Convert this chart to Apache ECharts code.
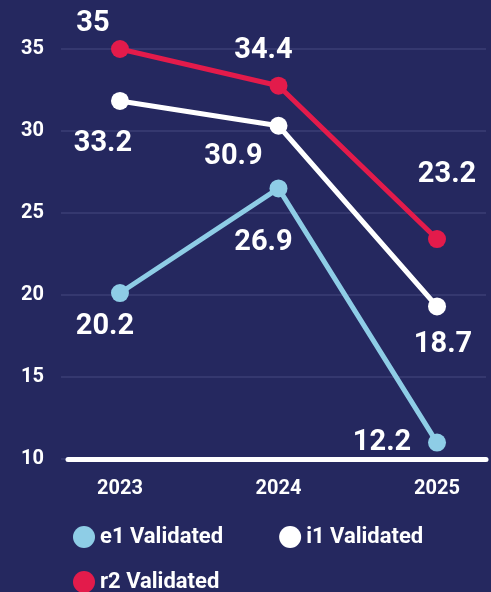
<!DOCTYPE html>
<html><head><meta charset="utf-8">
<script src="https://cdn.jsdelivr.net/npm/echarts@6/dist/echarts.min.js"></script>
<style>html,body{margin:0;padding:0;background:#25285f;}#c{width:491px;height:592px;}</style>
</head><body><div id="c"></div>
<script>
var years = [2023, 2024, 2025];
var seriesNames = ['e1 Validated', 'i1 Validated', 'r2 Validated'];
// plotted positions
var e1Values = [20.12, 26.5, 11.0];
var i1Values = [31.83, 30.32, 19.3];
var r2Values = [35.0, 32.76, 23.41];
// printed value labels
var e1Labels = ['20.2', '26.9', '12.2'];
var i1Labels = ['33.2', '30.9', '18.7'];
var r2Labels = ['35', '34.4', '23.2'];
var yTicks = [10, 15, 20, 25, 30, 35];

// styling (label offsets in px relative to point)
var colors = ['#8ecde6', '#ffffff', '#e31b4b'];
var labelOffsets = [
  [[-15, 34], [-15, 54], [-55, 0]],
  [[-17, 43], [-45, 31], [6, 38]],
  [[-27, -25], [-15, -35], [10, -64]]
];
var FONT = 'Roboto';

function build(vals, labels, si) {
  return vals.map(function (v, i) {
    return {
      value: [years[i], v],
      label: { show: true, position: 'inside', formatter: labels[i], offset: labelOffsets[si][i] }
    };
  });
}
var allVals = [e1Values, i1Values, r2Values];
var allLabels = [e1Labels, i1Labels, r2Labels];

var chart = echarts.init(document.getElementById('c'));
chart.setOption({
  backgroundColor: '#25285f',
  animation: false,
  grid: [
    { left: 61, right: 5, top: 49, bottom: 133 },
    { left: 68, right: 5, top: 49, bottom: 133 }
  ],
  legend: [
    { data: ['e1 Validated', 'i1 Validated'], left: 68, top: 521, itemWidth: 22, itemHeight: 22, itemGap: 56, icon: 'circle',
      textStyle: { color: '#ffffff', fontFamily: FONT, fontWeight: 'bold', fontSize: 22 } },
    { data: ['r2 Validated'], left: 68, top: 566, itemWidth: 22, itemHeight: 22, icon: 'circle',
      textStyle: { color: '#ffffff', fontFamily: FONT, fontWeight: 'bold', fontSize: 22 } }
  ],
  xAxis: [
    { type: 'value', gridIndex: 0, min: 2022.628, max: 2025.309,
      axisLine: { show: false }, axisTick: { show: false }, splitLine: { show: false },
      axisLabel: { customValues: years, color: '#ffffff', fontFamily: FONT, fontWeight: 'bold', fontSize: 20, margin: 20, formatter: function (v) { return String(v); } } },
    { type: 'value', gridIndex: 1, min: 0, max: 1, offset: 7,
      axisLine: { show: true, lineStyle: { color: '#ffffff', width: 5 } }, axisTick: { show: false },
      axisLabel: { show: false }, splitLine: { show: false } }
  ],
  yAxis: [
    { type: 'value', gridIndex: 0, min: 10, max: 35, interval: 5,
      axisLine: { show: false }, axisTick: { show: false },
      splitLine: { show: true, lineStyle: { color: '#3b3e74', width: 1.5 } },
      axisLabel: { color: '#ffffff', fontFamily: FONT, fontWeight: 'bold', fontSize: 20, margin: 17 } },
    { type: 'value', gridIndex: 1, min: 0, max: 1, show: false }
  ],
  series: seriesNames.map(function (n, si) {
    return {
      name: n, type: 'line', xAxisIndex: 0, yAxisIndex: 0,
      data: build(allVals[si], allLabels[si], si),
      symbol: 'circle', symbolSize: 18,
      lineStyle: { width: 5, color: colors[si] },
      itemStyle: { color: colors[si] },
      label: { color: '#ffffff', fontFamily: FONT, fontWeight: 'bold', fontSize: 29 },
      z: 2 + si
    };
  })
});
</script></body></html>
